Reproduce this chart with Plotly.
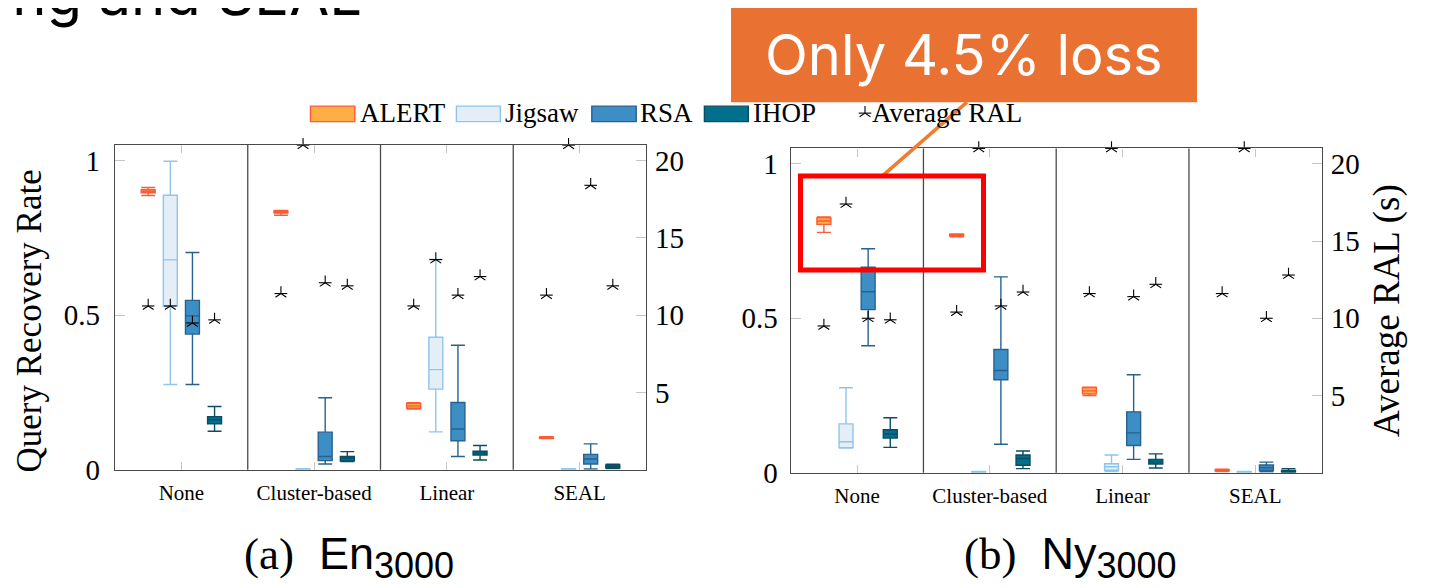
import plotly.graph_objects as go

# Page geometry: the body keeps its default 8px margin; the photographed page
# is 604px tall and is scaled to 588, so reference pixels are mapped back.
PAGE_W, OFF = 1434, 8
W, H = PAGE_W - 2 * OFF, 588
SY = (H + 2 * OFF) / 588.0

categories = ["None", "Cluster-based", "Linear", "SEAL"]
series_names = ["ALERT", "Jigsaw", "RSA", "IHOP"]
qrr_tickvals = [0, 0.5, 1]
qrr_ticktext = ["0", "0.5", "1"]
ral_tickvals = [5, 10, 15, 20]

# Box statistics per category: [lower whisker, Q1, median, Q3, upper whisker]
en_alert = [[0.887, 0.896, 0.901, 0.906, 0.913], [0.823, 0.830, 0.834, 0.837, 0.839],
            [0.197, 0.199, 0.207, 0.215, 0.217], [0.101, 0.102, 0.104, 0.106, 0.107]]
en_jigsaw = [[0.276, 0.529, 0.679, 0.888, 0.998], [0.000, 0.001, 0.002, 0.003, 0.004],
             [0.123, 0.261, 0.324, 0.429, 0.680], [0.000, 0.001, 0.002, 0.003, 0.004]]
en_rsa = [[0.276, 0.439, 0.498, 0.548, 0.703], [0.019, 0.030, 0.043, 0.122, 0.233],
          [0.043, 0.094, 0.132, 0.218, 0.403], [0.003, 0.019, 0.035, 0.050, 0.084]]
en_ihop = [[0.125, 0.149, 0.162, 0.172, 0.205], [0.027, 0.029, 0.038, 0.043, 0.059],
           [0.032, 0.048, 0.054, 0.060, 0.079], [0.004, 0.006, 0.011, 0.016, 0.018]]

ny_alert = [[0.778, 0.804, 0.815, 0.826, 0.828], [0.764, 0.766, 0.769, 0.772, 0.773],
            [0.250, 0.255, 0.265, 0.276, 0.277], [0.004, 0.006, 0.008, 0.010, 0.011]]
ny_jigsaw = [[0.080, 0.081, 0.100, 0.158, 0.275], [0.000, 0.001, 0.002, 0.003, 0.004],
             [0.004, 0.008, 0.019, 0.029, 0.057], [0.000, 0.001, 0.002, 0.003, 0.004]]
ny_rsa = [[0.411, 0.528, 0.586, 0.665, 0.725], [0.092, 0.301, 0.331, 0.399, 0.634],
          [0.043, 0.088, 0.129, 0.197, 0.317], [0.003, 0.007, 0.016, 0.025, 0.034]]
ny_ihop = [[0.082, 0.112, 0.125, 0.139, 0.178], [0.013, 0.024, 0.046, 0.057, 0.070],
           [0.015, 0.028, 0.035, 0.043, 0.061], [0.001, 0.002, 0.004, 0.007, 0.013]]

# Average RAL (s) per category
en_ral_alert = [10.6, 11.4, 10.6, 11.3]
en_ral_jigsaw = [10.6, 21.0, 13.6, 21.0]
en_ral_rsa = [9.5, 12.1, 11.3, 18.4]
en_ral_ihop = [9.7, 11.9, 12.5, 11.9]
ny_ral_alert = [9.5, 10.4, 11.6, 11.6]
ny_ral_jigsaw = [17.4, 21.0, 21.0, 21.0]
ny_ral_rsa = [10.0, 10.8, 11.4, 10.0]
ny_ral_ihop = [9.9, 11.7, 12.2, 12.8]

# ---------------- styling ----------------
FILLS = ["#FFAE45", "#E4EEF7", "#3C8EC4", "#00708C"]
LINES = ["#FF5A36", "#8FC5E9", "#27628F", "#0A4C62"]
SERIF = "Liberation Serif"
SANS = "Inter"


def pxx(x):
    """picture pixel x -> paper"""
    return (x - OFF) / W


def pxy(y):
    """picture pixel y -> paper"""
    return 1 - (y * SY - OFF) / H


fig = go.Figure()

panels = [
    dict(xa="x", ya="y", ya2="y2",
         boxes=[en_alert, en_jigsaw, en_rsa, en_ihop],
         ral=[en_ral_alert, en_ral_jigsaw, en_ral_rsa, en_ral_ihop]),
    dict(xa="x2", ya="y3", ya2="y4",
         boxes=[ny_alert, ny_jigsaw, ny_rsa, ny_ihop],
         ral=[ny_ral_alert, ny_ral_jigsaw, ny_ral_rsa, ny_ral_ihop]),
]

n_series = len(series_names)
offsets = [(j - (n_series - 1) / 2) / 6 for j in range(n_series)]

for p in panels:
    star_x, star_y = [], []
    for j, (stats, ral) in enumerate(zip(p["boxes"], p["ral"])):
        xs = [i + offsets[j] for i in range(len(categories))]
        fig.add_trace(go.Box(
            x=xs,
            lowerfence=[s[0] for s in stats],
            q1=[s[1] for s in stats],
            median=[s[2] for s in stats],
            q3=[s[3] for s in stats],
            upperfence=[s[4] for s in stats],
            width=0.105, whiskerwidth=1,
            fillcolor=FILLS[j], line=dict(color=LINES[j], width=1.4),
            boxpoints=False, name=series_names[j], showlegend=False,
            xaxis=p["xa"], yaxis=p["ya"], hoverinfo="skip",
        ))
        star_x += xs
        star_y += ral
    for sym in ["y-up", "line-ew"]:
        fig.add_trace(go.Scatter(
            x=star_x, y=star_y, mode="markers", cliponaxis=False,
            marker=dict(symbol=sym, size=9, color="black",
                        line=dict(color="black", width=1.1)),
            name="Average RAL", showlegend=False,
            xaxis=p["xa"], yaxis=p["ya2"], hoverinfo="skip",
        ))

# legend star (on a picture-pixel helper axis)
LEG_Y = 113
for sym in ["y-up", "line-ew"]:
    fig.add_trace(go.Scatter(
        x=[865], y=[LEG_Y], mode="markers",
        marker=dict(symbol=sym, size=9, color="black", line=dict(color="black", width=1.1)),
        showlegend=False, xaxis="x3", yaxis="y5", hoverinfo="skip", cliponaxis=False,
    ))

# ---------------- axes ----------------
line_col = "#4a4a4a"
tick_col = "#c4c4c4"


def xaxis_cfg(domain, anchor):
    return dict(domain=domain, anchor=anchor, range=[-0.5, 3.5],
                tickvals=list(range(len(categories))), ticktext=categories,
                ticks="inside", ticklen=8, tickwidth=1.2, tickcolor=tick_col,
                showline=True, linecolor=line_col, linewidth=1.3, mirror="ticks",
                showgrid=False, zeroline=False, ticklabelstandoff=4,
                tickfont=dict(family=SERIF, size=21, color="black"))


def yaxis_cfg(domain, anchor, standoff):
    return dict(domain=domain, anchor=anchor, range=[0, 1.05],
                tickvals=qrr_tickvals, ticktext=qrr_ticktext,
                ticks="inside", ticklen=10, tickwidth=1.2, tickcolor=tick_col,
                showline=True, linecolor=line_col, linewidth=1.3,
                showgrid=False, zeroline=False, ticklabelstandoff=standoff,
                tickfont=dict(family=SERIF, size=29, color="black"))


def y2axis_cfg(overlay, anchor, title=None):
    d = dict(overlaying=overlay, anchor=anchor, side="right", range=[0, 21],
             tickvals=ral_tickvals, ticks="inside", ticklen=10, tickwidth=1.2,
             tickcolor=tick_col, showline=True, linecolor=line_col, linewidth=1.3,
             showgrid=False, zeroline=False, ticklabelstandoff=2,
             tickfont=dict(family=SERIF, size=29, color="black"))
    if title:
        d["title"] = dict(text=title, font=dict(family=SERIF, size=37, color="black"), standoff=14)
    return d


left_x = [pxx(115), pxx(646)]
left_y = [pxy(470), pxy(145)]
right_x = [pxx(790.7), pxx(1321.7)]
right_y = [pxy(472.8), pxy(148.3)]

fig.update_layout(
    width=W, height=H, margin=dict(l=0, r=0, t=0, b=0),
    paper_bgcolor="white", plot_bgcolor="rgba(0,0,0,0)", showlegend=False,
    xaxis=xaxis_cfg(left_x, "y"),
    yaxis=yaxis_cfg(left_y, "x", 8),
    yaxis2=y2axis_cfg("y", "x"),
    xaxis2=xaxis_cfg(right_x, "y3"),
    yaxis3=yaxis_cfg(right_y, "x2", 6),
    yaxis4=y2axis_cfg("y3", "x2", "Average RAL (s)"),
    xaxis3=dict(domain=[0, 1], range=[OFF, OFF + W], visible=False, anchor="y5", fixedrange=True),
    yaxis5=dict(domain=[0, 1], range=[(H + OFF) / SY, OFF / SY], visible=False,
                anchor="x3", fixedrange=True),
)

shapes = []
# category separators
for xa, ya in [("x", "y"), ("x2", "y3")]:
    for b in [0.5, 1.5, 2.5]:
        shapes.append(dict(type="line", xref=xa, yref=f"{ya} domain", x0=b, x1=b, y0=0, y1=1,
                           line=dict(color=line_col, width=1.3)))

# legend swatches
legend_swatches = [(310.5, 354.8), (456.4, 500.3), (591.8, 636.2), (704.4, 748.3)]
for (x0, x1), fc, lc in zip(legend_swatches, FILLS, LINES):
    shapes.append(dict(type="rect", xref="paper", yref="paper", x0=pxx(x0), x1=pxx(x1),
                       y0=pxy(121.5), y1=pxy(106), fillcolor=fc, line=dict(color=lc, width=1.4)))
# callout
shapes.append(dict(type="rect", xref="paper", yref="paper", x0=pxx(731), x1=pxx(1197),
                   y0=pxy(102), y1=pxy(7), fillcolor="#E97132", line=dict(width=0), layer="above"))
shapes.append(dict(type="line", xref="paper", yref="paper", x0=pxx(967), x1=pxx(881),
                   y0=pxy(102), y1=pxy(177), line=dict(color="#ED7D31", width=3.5), layer="above"))
shapes.append(dict(type="rect", xref="paper", yref="paper", x0=pxx(800.5), x1=pxx(983.5),
                   y0=pxy(270), y1=pxy(176), line=dict(color="#FF0000", width=5), layer="above"))
fig.update_layout(shapes=shapes)

ann = []
# slide title (cut off at top)
ann.append(dict(text="ning and SEAL", xref="paper", yref="paper", x=pxx(364), y=pxy(-6),
                xanchor="right", yanchor="middle", showarrow=False,
                font=dict(family=SANS, size=58, color="black")))
# callout text
ann.append(dict(text="Only 4.5% loss", xref="paper", yref="paper", x=pxx(964), y=pxy(55),
                xanchor="center", yanchor="middle", showarrow=False,
                font=dict(family=SANS, size=56, color="white")))
# left y-axis title
ann.append(dict(text="Query Recovery Rate", xref="paper", yref="paper", x=pxx(29.5), y=pxy(321),
                xanchor="center", yanchor="middle", textangle=-90, showarrow=False,
                font=dict(family=SERIF, size=35, color="black")))
# legend labels
legend_text_x = [359.6, 505, 639.5, 753]
for name, lx in zip(series_names, legend_text_x):
    ann.append(dict(text=name, xref="paper", yref="paper", x=pxx(lx - 2), y=pxy(LEG_Y),
                    xanchor="left", yanchor="middle", showarrow=False,
                    font=dict(family=SERIF, size=27, color="black")))
ann.append(dict(text="Average RAL", xref="paper", yref="paper", x=pxx(870), y=pxy(LEG_Y),
                xanchor="left", yanchor="middle", showarrow=False,
                font=dict(family=SERIF, size=27, color="black")))
# captions
for lab, cx in [("(a)", 349), ("(b)", 1070)]:
    base = "En" if lab == "(a)" else "Ny"
    ann.append(dict(
        text=(f'<span style="font-family:{SERIF}">{lab}</span>&nbsp; {base}'
              f'<sub><span style="font-size:36px">3000</span></sub>'),
        xref="paper", yref="paper", x=pxx(cx), y=pxy(557),
        xanchor="center", yanchor="middle", showarrow=False,
        font=dict(family="Liberation Sans", size=45, color="black")))
fig.update_layout(annotations=ann)

fig.write_html("out.html")
